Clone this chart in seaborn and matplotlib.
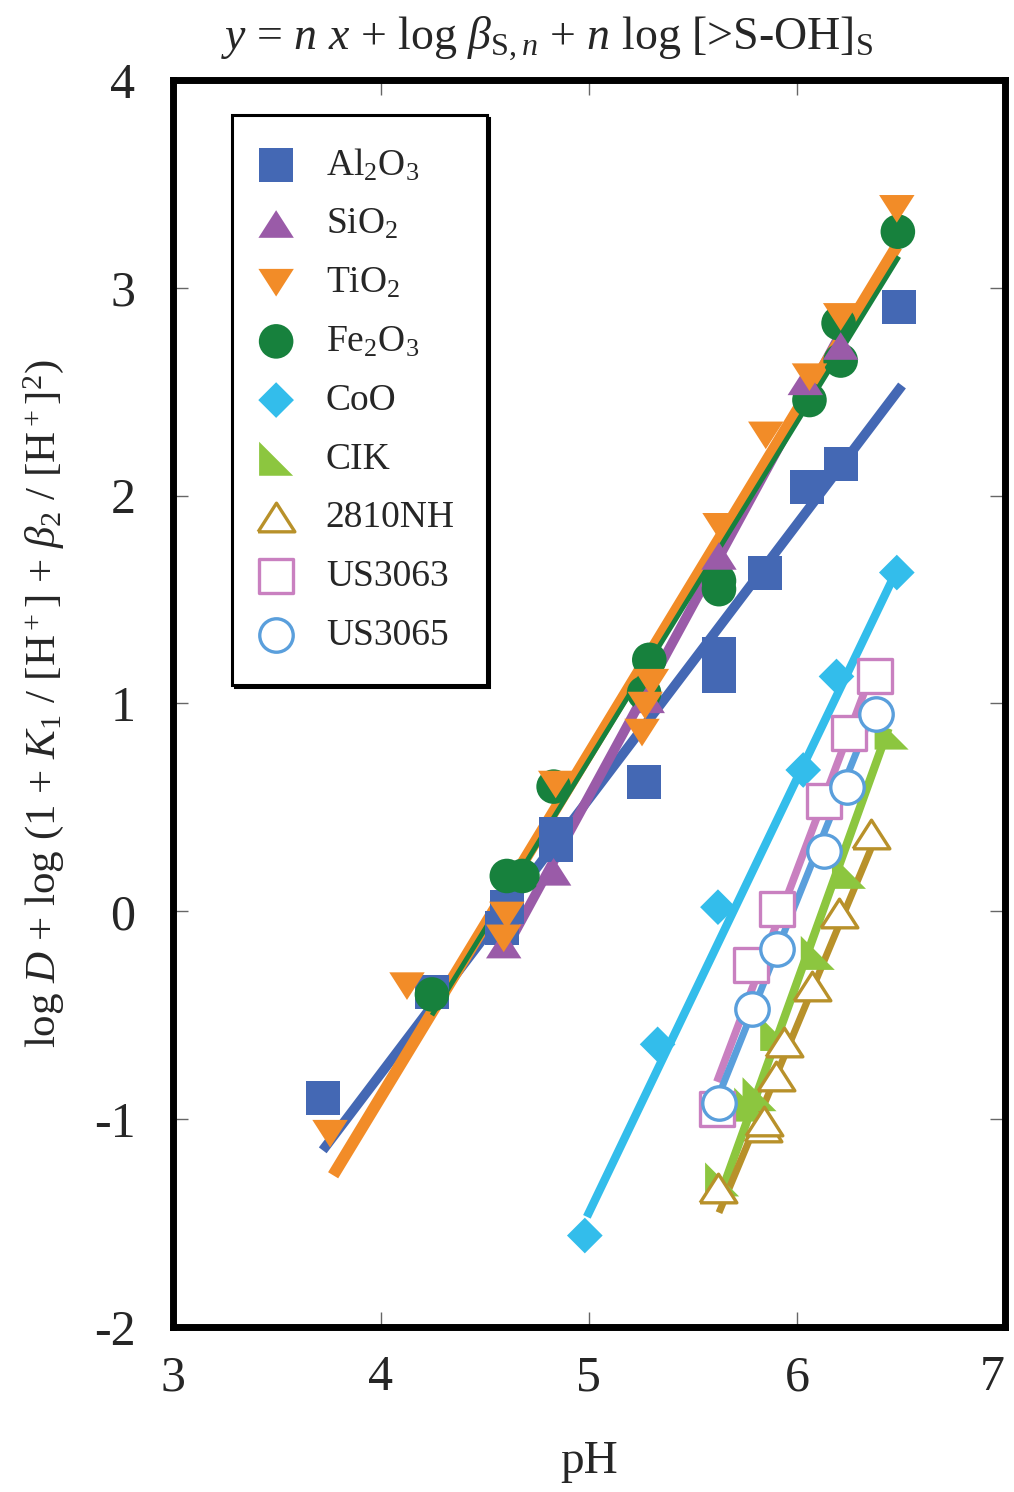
import matplotlib
matplotlib.use("Agg")
import matplotlib.pyplot as plt
import seaborn as sns
import pandas as pd

# series data (pH, y)
series = ["Al2O3", "SiO2", "TiO2", "Fe2O3", "CoO", "CIK", "2810NH", "US3063", "US3065"]
labels = [r"Al$_2$O$_3$", r"SiO$_2$", r"TiO$_2$", r"Fe$_2$O$_3$", "CoO", "CIK", "2810NH", "US3063", "US3065"]

al2o3_x = [3.72, 4.245, 4.605, 4.58, 4.84, 4.84, 5.265, 5.625, 5.625, 5.845, 6.05, 6.21, 6.49]
al2o3_y = [-0.90, -0.39, 0.02, -0.08, 0.37, 0.32, 0.62, 1.24, 1.13, 1.63, 2.04, 2.15, 2.91]
sio2_x = [4.59, 4.83, 5.28, 5.625, 6.04, 6.21]
sio2_y = [-0.16, 0.19, 1.02, 1.71, 2.55, 2.72]
tio2_x = [3.755, 4.125, 4.605, 4.59, 4.84, 5.30, 5.27, 5.255, 5.63, 5.85, 6.06, 6.21, 6.48]
tio2_y = [-1.07, -0.36, -0.02, -0.13, 0.61, 1.10, 0.99, 0.86, 1.85, 2.29, 2.57, 2.86, 3.38]
fe2o3_x = [4.245, 4.605, 4.68, 4.83, 5.29, 5.265, 5.625, 5.625, 6.06, 6.20, 6.21, 6.485]
fe2o3_y = [-0.40, 0.17, 0.17, 0.60, 1.21, 1.05, 1.59, 1.55, 2.46, 2.83, 2.65, 3.27]
coo_x = [4.98, 5.33, 5.62, 6.03, 6.19, 6.48]
coo_y = [-1.56, -0.64, 0.02, 0.68, 1.13, 1.63]
cik_x = [5.64, 5.78, 5.82, 5.905, 6.10, 6.25, 6.455]
cik_y = [-1.29, -0.93, -0.88, -0.59, -0.20, 0.19, 0.86]
nh_x = [5.62, 5.835, 5.84, 5.90, 5.94, 6.07, 6.20, 6.355]
nh_y = [-1.33, -1.04, -1.01, -0.79, -0.63, -0.36, -0.01, 0.37]
us3063_x = [5.615, 5.78, 5.905, 6.13, 6.25, 6.375]
us3063_y = [-0.95, -0.26, 0.01, 0.53, 0.86, 1.13]
us3065_x = [5.625, 5.785, 5.905, 6.13, 6.24, 6.38]
us3065_y = [-0.92, -0.47, -0.18, 0.29, 0.60, 0.95]

# fitted line end points, same order as series
fit_x0 = [3.72, 4.59, 3.77, 4.245, 4.99, 5.63, 5.625, 5.615, 5.63]
fit_y0 = [-1.15, -0.20, -1.27, -0.50, -1.47, -1.37, -1.45, -0.82, -0.87]
fit_x1 = [6.505, 6.21, 6.48, 6.49, 6.47, 6.44, 6.355, 6.36, 6.38]
fit_y1 = [2.53, 2.78, 3.20, 3.15, 1.62, 0.88, 0.30, 1.15, 1.00]

xs = [al2o3_x, sio2_x, tio2_x, fe2o3_x, coo_x, cik_x, nh_x, us3063_x, us3065_x]
ys = [al2o3_y, sio2_y, tio2_y, fe2o3_y, coo_y, cik_y, nh_y, us3063_y, us3065_y]

colors = ["#4468b4", "#9a5ba8", "#f28c28", "#17813d", "#33bdeb", "#8cc63f", "#b8912a", "#c980c0", "#5a9fdc"]
line_widths = [7, 7, 8.5, 3.5, 6, 6, 5, 5.5, 5]

tri_up = [(-1, -0.78), (1, -0.78), (0, 0.78), (-1, -0.78)]
tri_dn = [(-1, 0.78), (1, 0.78), (0, -0.78), (-1, 0.78)]
tri_rt = [(-1, -1), (1, -1), (-1, 1), (-1, -1)]
markers = ["s", tri_up, tri_dn, "o", "D", tri_rt, tri_up, "s", "o"]
sizes = [600, 650, 650, 620, 330, 600, 700, 620, 580]
filled = [True, True, True, True, True, True, False, False, False]
marker_order = [0, 3, 1, 2, 4, 5, 6, 7, 8]

sns.set_style("ticks")
plt.rcParams["font.family"] = ["Liberation Serif", "DejaVu Serif"]
plt.rcParams["mathtext.fontset"] = "custom"
plt.rcParams["mathtext.rm"] = "Liberation Serif"
plt.rcParams["mathtext.it"] = "Liberation Serif:italic"
plt.rcParams["mathtext.bf"] = "Liberation Serif:bold"
plt.rcParams["axes.unicode_minus"] = False

fig = plt.figure(figsize=(10.14, 14.92), dpi=100)
ax = fig.add_axes([0.1706, 0.1106, 0.8205, 0.8358])

for i in range(len(series)):
    line_df = pd.DataFrame({"x": [fit_x0[i], fit_x1[i]], "y": [fit_y0[i], fit_y1[i]]})
    sns.lineplot(data=line_df, x="x", y="y", color=colors[i], linewidth=line_widths[i],
                 solid_capstyle="butt", ax=ax, zorder=2, legend=False)

for i in marker_order:
    df = pd.DataFrame({"x": xs[i], "y": ys[i]})
    if filled[i]:
        kw = dict(color=colors[i], edgecolor="none")
    else:
        kw = dict(facecolor="white", edgecolor=colors[i], linewidth=2.4)
    sns.scatterplot(data=df, x="x", y="y", marker=markers[i], s=sizes[i], ax=ax,
                    zorder=3, label=labels[i], **kw)

h, l = ax.get_legend_handles_labels()
order = [l.index(lab) for lab in labels]
leg = ax.legend([h[k] for k in order], [l[k] for k in order], loc="upper left",
                bbox_to_anchor=(0.071, 0.972), borderaxespad=0, fontsize=27, frameon=True,
                fancybox=False, shadow={"color": "black", "alpha": 1}, edgecolor="black",
                labelspacing=0.645, handletextpad=1.0, borderpad=0.85, handlelength=0.65)
leg.get_frame().set_linewidth(2.2)

ax.set_xlim(3, 7)
ax.set_ylim(-2, 4)
ax.set_xticks([3, 4, 5, 6, 7])
ax.set_yticks([-2, -1, 0, 1, 2, 3, 4])
ax.tick_params(direction="in", length=11, width=1, color="#666666", labelsize=36,
               top=True, right=True)
ax.tick_params(axis="x", pad=20)
ax.tick_params(axis="y", pad=27)
ax.get_xticklabels()[-1].set_horizontalalignment("right")
for sp in ax.spines.values():
    sp.set_linewidth(5)
    sp.set_color("black")

ax.set_xlabel("pH", fontsize=34, labelpad=28)
ax.set_ylabel(r"log $D$ + log (1 + $K_1$ / [H$^+$] + $\beta_2$ / [H$^+$]$^2$)", fontsize=31, labelpad=20)
ax.set_title(r"$y$ = $n$ $x$ + log $\beta_{\mathrm{S},n}$ + $n$ log [>S-OH]$_{\mathrm{S}}$",
             fontsize=33, x=0.45, pad=22)

fig.savefig("out.png", dpi=100)
